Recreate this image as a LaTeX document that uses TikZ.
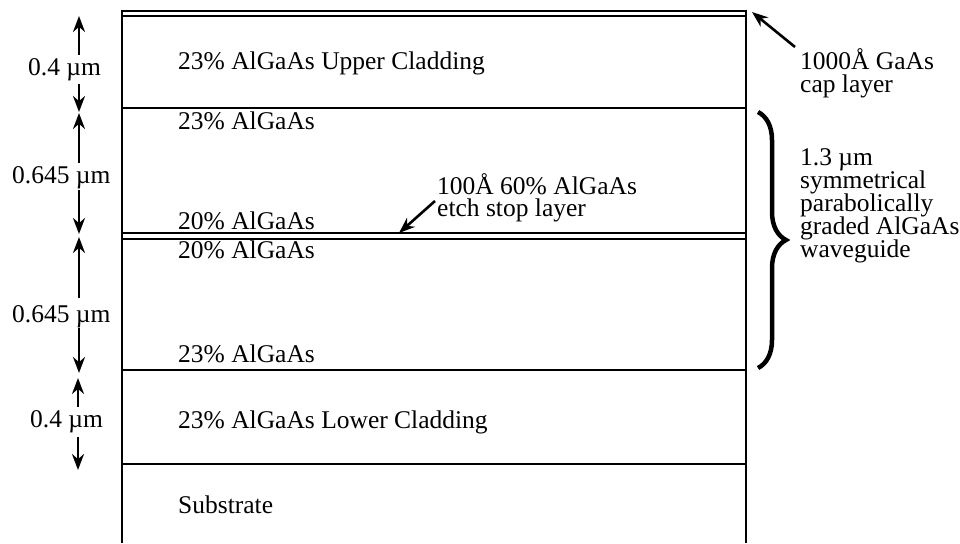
\documentclass[tikz,border=0pt]{standalone}
\usepackage{fontspec}
\setmainfont{Liberation Serif}
\usetikzlibrary{arrows.meta,decorations.pathreplacing}
\begin{document}
\begin{tikzpicture}[x=1pt,y=-1pt,
  txt/.style={font=\fontsize{25.5}{22}\selectfont, inner sep=0pt, anchor=base west},
  layer/.style={line width=2.2pt},
  arr/.style={line width=2.6pt, -{Stealth[length=16pt,width=12pt]}},
  brc/.style={line width=4.5pt, decorate, decoration={brace, amplitude=28pt}}]
\useasboundingbox (0,0) rectangle (960,543);
% box outline
\draw[layer, line width=2.8pt] (122,11) -- (746,11);
\draw[layer] (122,16) -- (746,16);
\draw[layer] (122,10) -- (122,543);
\draw[layer] (746,10) -- (746,543);
\draw[layer] (122,108) -- (746,108);
\draw[layer] (122,233) -- (746,233);
\draw[layer] (122,239) -- (746,239);
\draw[layer] (122,370) -- (746,370);
\draw[layer] (122,464) -- (746,464);
% layer texts
\node[txt] (t1) at (178,70) {23\% AlGaAs Upper Cladding};
\node[txt] (t2) at (178,129) {23\% AlGaAs};
\node[txt] (t3) at (178,229) {20\% AlGaAs};
\node[txt] (t4) at (178,258) {20\% AlGaAs};
\node[txt] (t5) at (178,362) {23\% AlGaAs};
\node[txt] (t6) at (178,428) {23\% AlGaAs Lower Cladding};
\node[txt] (t7) at (178,513) {Substrate};
% etch stop
\node[txt] (e1) at (437,194) {100Å 60\% AlGaAs};
\node[txt] (e2) at (437,216) {etch stop layer};
\coordinate (etail) at (435,201);
\coordinate (etip) at (399,233);
\draw[arr] (etail) -- (etip);
% cap layer
\node[txt] (c1) at (800,70) {1000Å GaAs};
\node[txt] (c2) at (800,92) {cap layer};
\coordinate (ctail) at (795,47);
\coordinate (ctip) at (752,12);
\draw[arr] (ctail) -- (ctip);
% brace and waveguide text
\coordinate (btop) at (758,112);
\coordinate (bbot) at (758,368);
\draw[brc] (btop) -- (bbot);
\node[txt] (w1) at (800,165) {1.3 µm};
\node[txt] (w2) at (800,188) {symmetrical};
\node[txt] (w3) at (800,211) {parabolically};
\node[txt] (w4) at (800,234) {graded AlGaAs};
\node[txt] (w5) at (800,257) {waveguide};
% left dimensions
\node[txt] (d1) at (28,75) {0.4 µm};
\node[txt] (d2) at (12,183) {0.645 µm};
\node[txt] (d3) at (12,322) {0.645 µm};
\node[txt] (d4) at (30,427) {0.4 µm};
\coordinate (a1u) at (79,55);  \coordinate (a1ut) at (79,16);
\coordinate (a1d) at (79,84);  \coordinate (a1dt) at (79,112);
\coordinate (a2u) at (79,163); \coordinate (a2ut) at (79,113);
\coordinate (a2d) at (79,190); \coordinate (a2dt) at (79,234);
\coordinate (a3u) at (79,298); \coordinate (a3ut) at (79,237);
\coordinate (a3d) at (79,328); \coordinate (a3dt) at (79,373);
\coordinate (a4u) at (78,407); \coordinate (a4ut) at (78,378);
\coordinate (a4d) at (78,437); \coordinate (a4dt) at (78,470);
\draw[arr] (a1u) -- (a1ut);
\draw[arr] (a1d) -- (a1dt);
\draw[arr] (a2u) -- (a2ut);
\draw[arr] (a2d) -- (a2dt);
\draw[arr] (a3u) -- (a3ut);
\draw[arr] (a3d) -- (a3dt);
\draw[arr] (a4u) -- (a4ut);
\draw[arr] (a4d) -- (a4dt);
\end{tikzpicture}
\end{document}
